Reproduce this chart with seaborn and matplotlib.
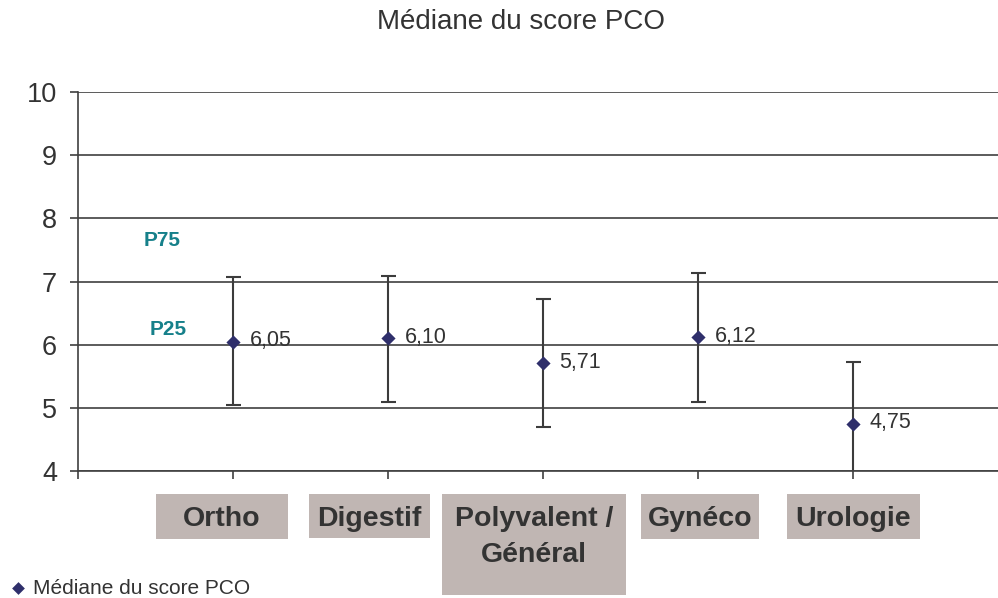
import numpy as np
import matplotlib
matplotlib.use("Agg")
import matplotlib.pyplot as plt
import seaborn as sns
from matplotlib.patches import Rectangle

# data
categories = ["Ortho", "Digestif", "Polyvalent /\nGénéral", "Gynéco", "Urologie"]
mediane = [6.05, 6.10, 5.71, 6.12, 4.75]
p25 = [5.04, 5.09, 4.70, 5.09, 3.75]
p75 = [7.07, 7.09, 6.72, 7.13, 5.73]
y_ticks = [4, 5, 6, 7, 8, 9, 10]

xpos = np.arange(1, len(categories) + 1)
med = np.array(mediane)
lo = med - np.array(p25)
hi = np.array(p75) - med

sns.set_theme(style="white")
plt.rcParams["font.family"] = ["Liberation Sans", "DejaVu Sans"]

W, H = 998, 598
fig = plt.figure(figsize=(W / 100, H / 100), dpi=100)
ax = fig.add_axes([78 / W, 1 - 471 / H, 920 / W, (471 - 92) / H])

dark = "#3c3c3c"
navy = "#2f2f6b"

ax.errorbar(xpos, med, yerr=[lo, hi], fmt="none", ecolor=dark,
            elinewidth=1.5, capsize=5.4, capthick=1.5, zorder=2)
sns.scatterplot(x=xpos, y=med, marker="D", s=52, color=navy, linewidth=0,
                label="Médiane du score PCO", zorder=3, ax=ax)

for x, v in zip(xpos, mediane):
    ax.annotate(f"{v:.2f}".replace(".", ","), (x, v), xytext=(12, 0.5),
                textcoords="offset points", ha="left", va="center",
                fontsize=15.5, color="#333333")

ax.set_xlim(0, 920 / 155)
ax.set_ylim(4, 10)
ax.set_yticks(y_ticks)
ax.set_yticklabels([str(t) for t in y_ticks], fontsize=19.5, color="#333333")
ax.set_xticks(range(0, len(categories) + 1))
ax.set_xticklabels([])
ax.yaxis.grid(True, color="#404040", linewidth=1.2)
ax.set_axisbelow(True)
ax.tick_params(axis="both", direction="out", length=6, width=1.2,
               color="#404040", pad=9, left=True, bottom=True)
for side in ["top", "right"]:
    ax.spines[side].set_visible(False)
for side in ["left", "bottom"]:
    ax.spines[side].set_color("#404040")
    ax.spines[side].set_linewidth(1.2)

teal = "#16808a"
ax.text(0.54, 7.65, "P75", ha="center", va="center", fontsize=15,
        fontweight="bold", color=teal)
ax.text(0.58, 6.24, "P25", ha="center", va="center", fontsize=15,
        fontweight="bold", color=teal)

fig.text(521 / W, 1 - 22 / H, "Médiane du score PCO", ha="center",
         va="center", fontsize=20, color="#333333")

# category label boxes (pixel extents: left, top, right, bottom)
boxes = [(156, 494, 288, 539), (309, 494, 430, 538), (442, 494, 626, 595),
         (641, 494, 759, 539), (787, 494, 920, 539)]
for label, (l, t, r, b) in zip(categories, boxes):
    fig.patches.append(Rectangle((l / W, 1 - b / H), (r - l) / W, (b - t) / H,
                                 transform=fig.transFigure,
                                 facecolor="#c0b6b3", edgecolor="none"))
    for i, line in enumerate(label.split("\n")):
        fig.text((l + r) / 2 / W, 1 - (t + 32 + 36.5 * i) / H, line,
                 ha="center", va="baseline", fontsize=20.5,
                 fontweight="bold", color="#333333")

ax.legend(loc="center left", bbox_to_anchor=(10 / W, 1 - 588 / H),
          bbox_transform=fig.transFigure, frameon=False, fontsize=15,
          handlelength=0.8, handletextpad=0.3, markerscale=0.9,
          borderpad=0, borderaxespad=0)
for txt in ax.get_legend().get_texts():
    txt.set_color("#333333")

fig.savefig("out.png", dpi=100)
